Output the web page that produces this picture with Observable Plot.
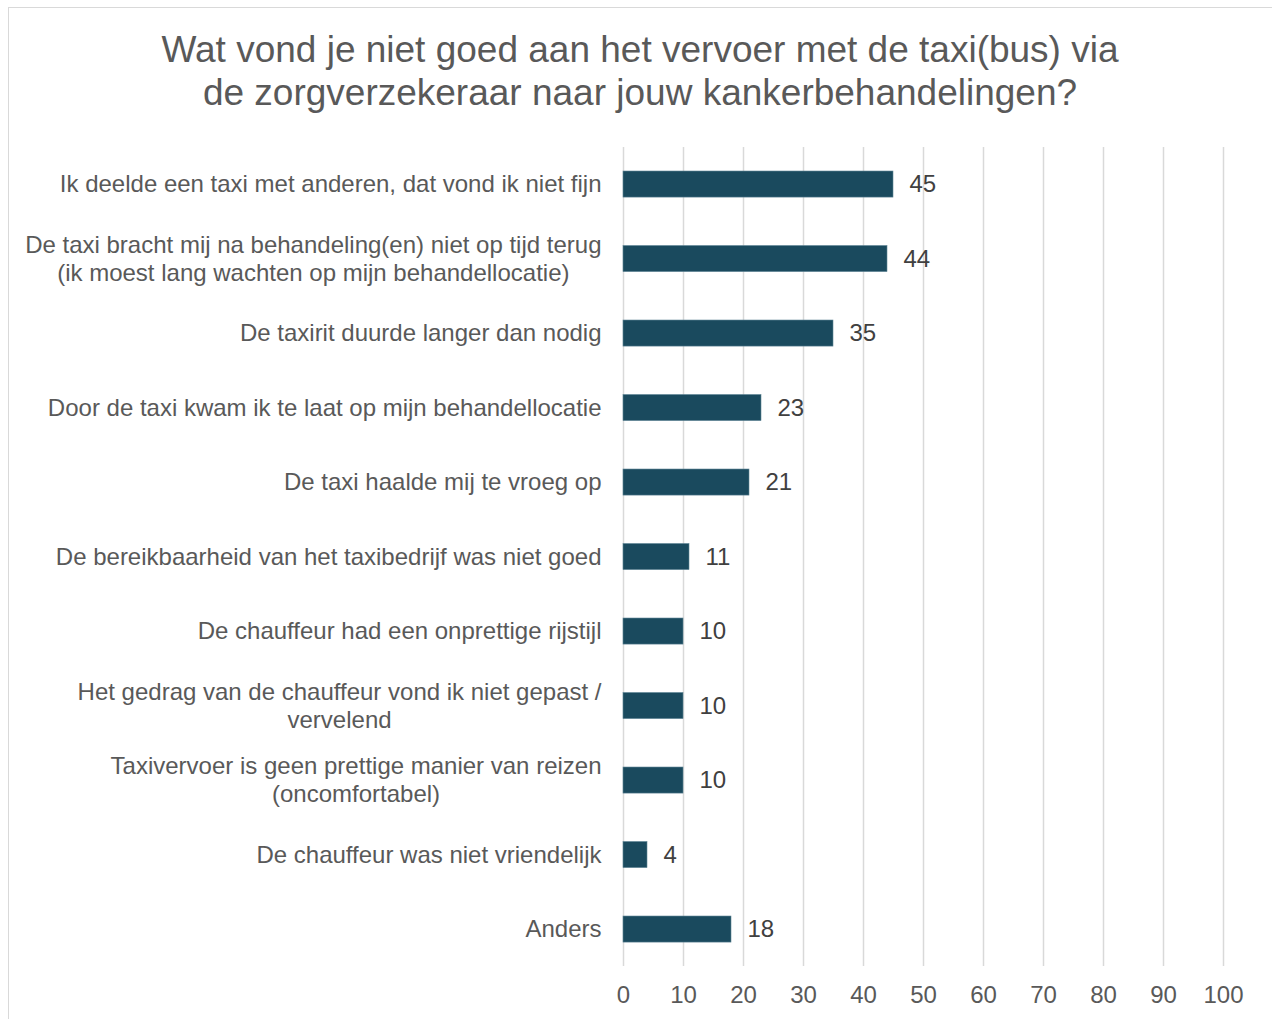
<!DOCTYPE html>
<html>
<head>
<meta charset="utf-8">
<script src="https://cdn.jsdelivr.net/npm/d3@7"></script>
<script src="https://cdn.jsdelivr.net/npm/@observablehq/plot@0.6"></script>
<style>
  html, body { margin: 0; padding: 0; background: #fff; }
  #wrap { position: relative; width: 1272px; height: 1019px; overflow: hidden; }
  #frame { position: absolute; left: 8px; top: 7px; width: 1400px; height: 1200px;
           border-left: 1.5px solid #d9d9d9; border-top: 1.5px solid #d9d9d9; }
  #title { position: absolute; left: 0; width: 1280px; top: 28px; text-align: center;
           font-family: "Liberation Sans", Arial, sans-serif;
           font-size: 37px; line-height: 43px; color: #595959; }
  #chart { position: absolute; left: 0; top: 130px; }
</style>
</head>
<body>
<div id="wrap">
  <div id="frame"></div>
  <div id="title">Wat vond je niet goed aan het vervoer met de taxi(bus) via<br>de zorgverzekeraar naar jouw kankerbehandelingen?</div>
  <div id="chart"></div>
</div>
<script>
const categories = [
  "Ik deelde een taxi met anderen, dat vond ik niet fijn",
  "De taxi bracht mij na behandeling(en) niet op tijd terug\n(ik moest lang wachten op mijn behandellocatie)",
  "De taxirit duurde langer dan nodig",
  "Door de taxi kwam ik te laat op mijn behandellocatie",
  "De taxi haalde mij te vroeg op",
  "De bereikbaarheid van het taxibedrijf was niet goed",
  "De chauffeur had een onprettige rijstijl",
  "Het gedrag van de chauffeur vond ik niet gepast /\nvervelend",
  "Taxivervoer is geen prettige manier van reizen\n(oncomfortabel)",
  "De chauffeur was niet vriendelijk",
  "Anders"
];
const values = [45, 44, 35, 23, 21, 11, 10, 10, 10, 4, 18];
const xTicks = [0, 10, 20, 30, 40, 50, 60, 70, 80, 90, 100];

const data = categories.map((c, i) => ({category: c, value: values[i]}));

const FONT = '"Liberation Sans", Arial, sans-serif';
const FS = 24;
const LINE = 28;          // px between label lines
const GAP = 22;           // px between label block and axis
const X0 = 623, X1 = 1223; // plot x range in px
const pxPerUnit = (X1 - X0) / 100;

const ctx = document.createElement("canvas").getContext("2d");
ctx.font = `${FS}px ${FONT}`;
const lineRows = [];
for (const c of categories) {
  const lines = c.split("\n");
  const w = Math.max(...lines.map(s => ctx.measureText(s).width));
  lines.forEach((s, j) => lineRows.push({
    category: c, text: s, n: lines.length, j,
    // centre of the label block, in x data units (left of 0)
    xc: -(GAP + w / 2) / pxPerUnit
  }));
}
const lineMark = (n, j) => Plot.text(lineRows.filter(r => r.n === n && r.j === j), {
  x: "xc", y: "category", text: "text", textAnchor: "middle", lineAnchor: "middle",
  dy: (j - (n - 1) / 2) * LINE, fill: "#595959", fontSize: FS
});

const chart = Plot.plot({
  width: 1272,
  height: 889,
  marginLeft: X0,
  marginRight: 1272 - X1,
  marginTop: 17,
  marginBottom: 53,
  style: {fontFamily: FONT, fontSize: FS + "px", color: "#595959", background: "transparent", overflow: "visible"},
  x: {domain: [0, 100], range: [X0, X1], label: null, axis: null},
  y: {domain: categories, range: [16.8, 836.3], round: false, padding: 0.65, paddingOuter: 0.325, axis: null},
  marks: [
    Plot.gridX(xTicks, {stroke: "#d9d9d9", strokeOpacity: 1, strokeWidth: 1.5}),
    Plot.barX(data, {x: "value", y: "category", fill: "#1a4a5e", stroke: "#5f8595", strokeWidth: 0.6}),
    Plot.text(data, {x: "value", y: "category", text: d => String(d.value), textAnchor: "start", lineAnchor: "middle", dx: 16, fill: "#404040", fontSize: FS}),
    lineMark(1, 0), lineMark(2, 0), lineMark(2, 1),
    Plot.text(xTicks, {x: d => d, frameAnchor: "bottom", lineAnchor: "middle", dy: 29, text: d => String(d), fill: "#595959", fontSize: FS})
  ]
});
document.getElementById("chart").appendChild(chart);
</script>
</body>
</html>
